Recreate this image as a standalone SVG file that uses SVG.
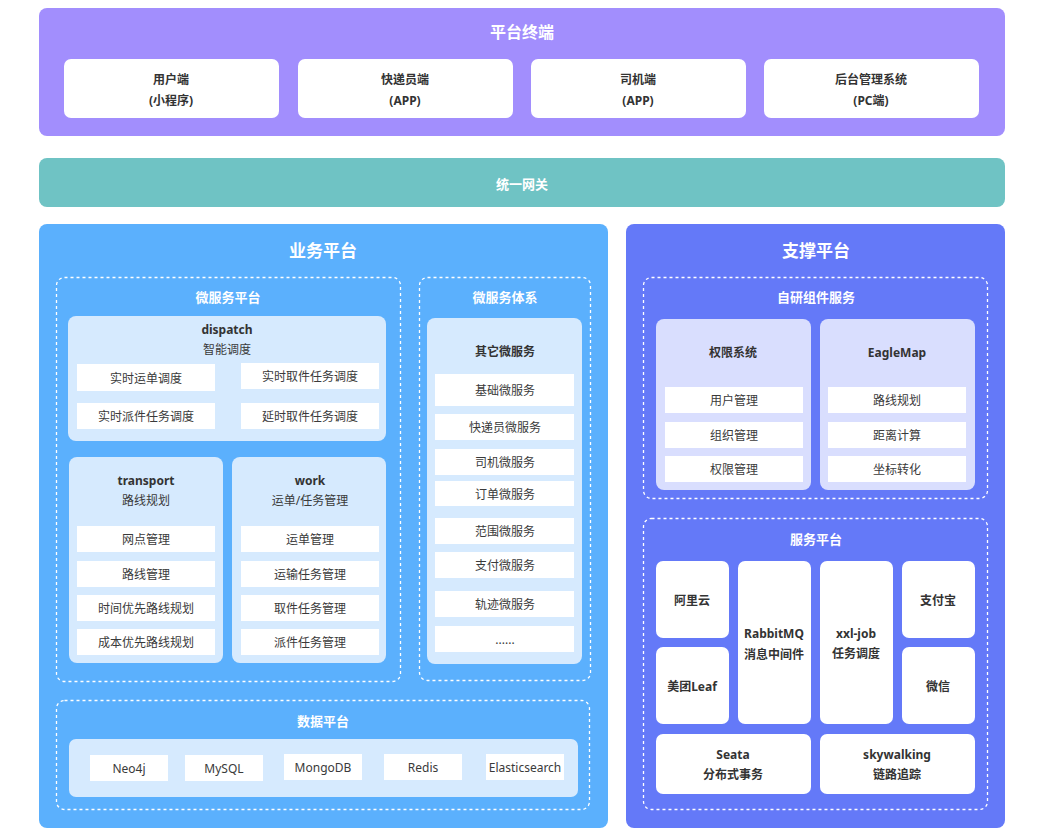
<svg xmlns="http://www.w3.org/2000/svg" width="1043" height="834" viewBox="0 0 1043 834">
<style>
text{font-family:"Noto Sans","Noto Sans CJK SC",sans-serif;text-anchor:middle;dominant-baseline:central}
.h1{fill:#fff;font-weight:bold;font-size:16px}
.h2{fill:#fff;font-weight:bold;font-size:13px}
.hb{fill:#333;font-weight:bold;font-size:12px}
.t{fill:#3a3a3a;font-size:12px}
.card{fill:#fff}
.dash{fill:none;stroke:#fff;stroke-width:1.3;stroke-dasharray:3 3}
.lb{fill:#D6EAFE}
.lv{fill:#D9DEFE}
</style>
<rect width="1043" height="834" fill="#fff"/>
<g id="terminal">
<rect x="39" y="8" width="966" height="128" rx="8" fill="#A28EFD"/>
<text class="h1" x="522" y="32">平台终端</text>
<rect class="card" x="64" y="59" width="215" height="59" rx="7"/>
<text class="hb" x="171" y="79">用户端</text><text class="hb" x="171" y="100">(小程序)</text>
<rect class="card" x="298" y="59" width="215" height="59" rx="7"/>
<text class="hb" x="405" y="79">快递员端</text><text class="hb" x="405" y="100">(APP)</text>
<rect class="card" x="531" y="59" width="215" height="59" rx="7"/>
<text class="hb" x="638" y="79">司机端</text><text class="hb" x="638" y="100">(APP)</text>
<rect class="card" x="764" y="59" width="215" height="59" rx="7"/>
<text class="hb" x="871" y="79">后台管理系统</text><text class="hb" x="871" y="100">(PC端)</text>
</g>
<g id="gateway">
<rect x="39" y="158" width="966" height="49" rx="8" fill="#6FC3C4"/>
<text class="h2" x="522" y="184">统一网关</text>
</g>
<g id="business">
<rect x="39" y="224" width="569" height="604" rx="8" fill="#5BB0FD"/>
<text class="h1" x="323" y="250" style="font-size:17px">业务平台</text>
<g id="microservice-platform">
<rect class="dash" x="56.5" y="277.5" width="344" height="404" rx="8"/>
<text class="h2" x="228" y="297">微服务平台</text>
<g id="dispatch">
<rect class="lb" x="68" y="316" width="318" height="125" rx="8"/>
<text class="hb" x="227" y="329">dispatch</text>
<text class="t" x="227" y="349">智能调度</text>
<rect class="card" x="77" y="364" width="138" height="27"/><text class="t" x="146" y="378">实时运单调度</text>
<rect class="card" x="241" y="363" width="138" height="26"/><text class="t" x="310" y="376">实时取件任务调度</text>
<rect class="card" x="77" y="403" width="138" height="26"/><text class="t" x="146" y="416">实时派件任务调度</text>
<rect class="card" x="241" y="403" width="138" height="26"/><text class="t" x="310" y="416">延时取件任务调度</text>
</g>
<g id="transport">
<rect class="lb" x="69" y="457" width="154" height="206" rx="8"/>
<text class="hb" x="146" y="480">transport</text>
<text class="t" x="146" y="500">路线规划</text>
<rect class="card" x="77" y="526" width="138" height="26"/><text class="t" x="146" y="539">网点管理</text>
<rect class="card" x="77" y="561" width="138" height="26"/><text class="t" x="146" y="574">路线管理</text>
<rect class="card" x="77" y="595" width="138" height="26"/><text class="t" x="146" y="608">时间优先路线规划</text>
<rect class="card" x="77" y="629" width="138" height="26"/><text class="t" x="146" y="642">成本优先路线规划</text>
</g>
<g id="work">
<rect class="lb" x="232" y="457" width="154" height="206" rx="8"/>
<text class="hb" x="310" y="480">work</text>
<text class="t" x="310" y="500">运单/任务管理</text>
<rect class="card" x="241" y="526" width="138" height="26"/><text class="t" x="310" y="539">运单管理</text>
<rect class="card" x="241" y="561" width="138" height="26"/><text class="t" x="310" y="574">运输任务管理</text>
<rect class="card" x="241" y="595" width="138" height="26"/><text class="t" x="310" y="608">取件任务管理</text>
<rect class="card" x="241" y="629" width="138" height="26"/><text class="t" x="310" y="642">派件任务管理</text>
</g>
</g>
<g id="microservice-system">
<rect class="dash" x="419.5" y="277.5" width="171" height="403" rx="8"/>
<text class="h2" x="505" y="297">微服务体系</text>
<rect class="lb" x="427" y="318" width="155" height="346" rx="8"/>
<text class="hb" x="505" y="351">其它微服务</text>
<rect class="card" x="435" y="374" width="139" height="32"/><text class="t" x="505" y="390">基础微服务</text>
<rect class="card" x="435" y="414" width="139" height="26"/><text class="t" x="505" y="427">快递员微服务</text>
<rect class="card" x="435" y="449" width="139" height="26"/><text class="t" x="505" y="462">司机微服务</text>
<rect class="card" x="435" y="481" width="139" height="25"/><text class="t" x="505" y="494">订单微服务</text>
<rect class="card" x="435" y="518" width="139" height="26"/><text class="t" x="505" y="531">范围微服务</text>
<rect class="card" x="435" y="552" width="139" height="26"/><text class="t" x="505" y="565">支付微服务</text>
<rect class="card" x="435" y="591" width="139" height="26"/><text class="t" x="505" y="604">轨迹微服务</text>
<rect class="card" x="435" y="626" width="139" height="26"/><text class="t" x="505" y="639">......</text>
</g>
<g id="data-platform">
<rect class="dash" x="56.5" y="700.5" width="533" height="109" rx="8"/>
<text class="h2" x="323" y="721">数据平台</text>
<rect class="lb" x="69" y="739" width="509" height="58" rx="7"/>
<rect class="card" x="90" y="755" width="78" height="26"/><text class="t" x="129" y="768">Neo4j</text>
<rect class="card" x="185" y="755" width="78" height="26"/><text class="t" x="224" y="768">MySQL</text>
<rect class="card" x="284" y="754" width="78" height="26"/><text class="t" x="323" y="767">MongoDB</text>
<rect class="card" x="384" y="754" width="78" height="26"/><text class="t" x="423" y="767">Redis</text>
<rect class="card" x="486" y="754" width="78" height="26"/><text class="t" x="525" y="767">Elasticsearch</text>
</g>
</g>
<g id="support">
<rect x="626" y="224" width="379" height="604" rx="8" fill="#6479F8"/>
<text class="h1" x="816" y="250" style="font-size:17px">支撑平台</text>
<g id="self-components">
<rect class="dash" x="643.5" y="277.5" width="344" height="221" rx="8"/>
<text class="h2" x="816" y="297">自研组件服务</text>
<g id="auth">
<rect class="lv" x="656" y="319" width="155" height="171" rx="8"/>
<text class="hb" x="733" y="352">权限系统</text>
<rect class="card" x="665" y="387" width="138" height="26"/><text class="t" x="734" y="400">用户管理</text>
<rect class="card" x="665" y="422" width="138" height="26"/><text class="t" x="734" y="435">组织管理</text>
<rect class="card" x="665" y="456" width="138" height="26"/><text class="t" x="734" y="469">权限管理</text>
</g>
<g id="eaglemap">
<rect class="lv" x="820" y="319" width="155" height="171" rx="8"/>
<text class="hb" x="897" y="352">EagleMap</text>
<rect class="card" x="828" y="387" width="138" height="26"/><text class="t" x="897" y="400">路线规划</text>
<rect class="card" x="828" y="422" width="138" height="26"/><text class="t" x="897" y="435">距离计算</text>
<rect class="card" x="828" y="456" width="138" height="26"/><text class="t" x="897" y="469">坐标转化</text>
</g>
</g>
<g id="service-platform">
<rect class="dash" x="643.5" y="518.5" width="344" height="291" rx="8"/>
<text class="h2" x="816" y="539">服务平台</text>
<g id="aliyun"><rect class="card" x="656" y="561" width="73" height="77" rx="7"/><text class="hb" x="692" y="600">阿里云</text></g>
<g id="leaf"><rect class="card" x="656" y="647" width="73" height="77" rx="7"/><text class="hb" x="692" y="686">美团Leaf</text></g>
<g id="rabbitmq"><rect class="card" x="738" y="561" width="73" height="163" rx="7"/><text class="hb" x="774" y="633">RabbitMQ</text><text class="hb" x="774" y="654">消息中间件</text></g>
<g id="xxljob"><rect class="card" x="820" y="561" width="73" height="163" rx="7"/><text class="hb" x="856" y="633">xxl-job</text><text class="hb" x="856" y="653">任务调度</text></g>
<g id="alipay"><rect class="card" x="902" y="561" width="73" height="77" rx="7"/><text class="hb" x="938" y="600">支付宝</text></g>
<g id="wechat"><rect class="card" x="902" y="647" width="73" height="77" rx="7"/><text class="hb" x="938" y="686">微信</text></g>
<g id="seata"><rect class="card" x="656" y="734" width="155" height="60" rx="7"/><text class="hb" x="733" y="754">Seata</text><text class="hb" x="733" y="774">分布式事务</text></g>
<g id="skywalking"><rect class="card" x="820" y="734" width="155" height="60" rx="7"/><text class="hb" x="897" y="754">skywalking</text><text class="hb" x="897" y="774">链路追踪</text></g>
</g>
</g>
<g id="connectors"/>
</svg>
